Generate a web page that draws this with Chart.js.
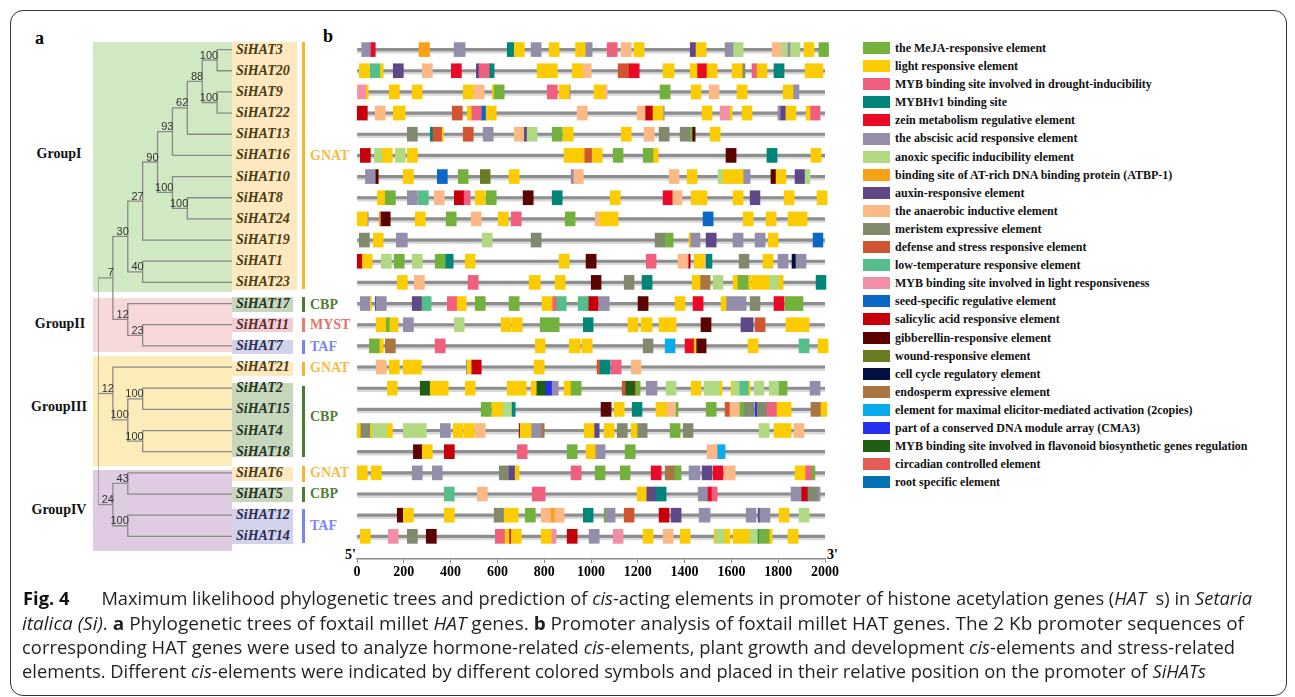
<!DOCTYPE html>
<html>
<head>
<meta charset="utf-8">
<script src="https://cdn.jsdelivr.net/npm/chart.js@4.4.1/dist/chart.umd.min.js"></script>
<style>
  body { margin: 0; width: 1295px; height: 697px; background: #fff; position: relative; overflow: hidden; font-family: "Liberation Serif", "Times New Roman", serif; }
  .abs { position: absolute; }
  .frame { left: 10px; top: 10px; width: 1275px; height: 684px; border: 1.4px solid #333; border-radius: 13px; }
  .serifb { font-family: "Liberation Serif", serif; font-weight: bold; }
  .grp { font-size: 14px; width: 80px; text-align: center; line-height: 18px; color: #111; }
  .fam { font-size: 14px; line-height: 18px; }
  .famBar { width: 2.5px; }
  .gene { font-family: "Liberation Serif", serif; font-weight: bold; font-style: italic; font-size: 14px; line-height: 18px; white-space: nowrap; }
  .leg { left: 863px; font-size: 12px; line-height: 18.1px; color: #111; white-space: nowrap; }
  .leg div { height: 18.1px; display: flex; align-items: center; }
  .leg span.sw { display: inline-block; width: 27px; height: 12px; margin-right: 5px; }
  .cap { font-family: "Open Sans", "Noto Sans", sans-serif; font-size: 17.5px; color: #231f20; line-height: 24px; white-space: nowrap; display: inline-block; transform-origin: 0 50%; }
  .cap i { font-style: italic; }
  .cap b { font-weight: bold; }
</style>
</head>
<body>
<div class="abs frame"></div>

<!-- panel a backgrounds -->
<div class="abs" style="left:93px;top:42px;width:139px;height:250px;background:#d0e8c3"></div>
<div class="abs" style="left:232px;top:42px;width:65px;height:248px;background:#fde8c0"></div>
<div class="abs" style="left:93px;top:298px;width:139px;height:54px;background:#f7d9d9"></div>
<div class="abs" style="left:93px;top:356px;width:139px;height:110px;background:#fcecb9"></div>
<div class="abs" style="left:93px;top:470px;width:139px;height:81px;background:#dfcce3"></div>
<div class="abs" style="left:232px;top:297px;width:61px;height:15px;background:#c6d7bd"></div>
<div class="abs" style="left:232px;top:318px;width:61px;height:14px;background:#f0cfd4"></div>
<div class="abs" style="left:232px;top:340px;width:61px;height:14px;background:#d2d3ea"></div>
<div class="abs" style="left:232px;top:362px;width:61px;height:14px;background:#fde8c0"></div>
<div class="abs" style="left:232px;top:383px;width:61px;height:74px;background:#c6d7bd"></div>
<div class="abs" style="left:232px;top:467px;width:61px;height:14px;background:#fde8c0"></div>
<div class="abs" style="left:232px;top:487px;width:61px;height:15px;background:#c6d7bd"></div>
<div class="abs" style="left:232px;top:509px;width:61px;height:35px;background:#d2d3ea"></div>

<!-- family bars -->
<div class="abs famBar" style="left:302px;top:42px;height:247px;background:#f5b52e"></div>
<div class="abs famBar" style="left:302px;top:297px;height:15px;background:#4c7c2e"></div>
<div class="abs famBar" style="left:302px;top:318px;height:14px;background:#ec7b78"></div>
<div class="abs famBar" style="left:302px;top:340px;height:14px;background:#7b83f0"></div>
<div class="abs famBar" style="left:302px;top:362px;height:14px;background:#f5b52e"></div>
<div class="abs famBar" style="left:302px;top:386px;height:71px;background:#4c7c2e"></div>
<div class="abs famBar" style="left:302px;top:466px;height:16px;background:#f5b52e"></div>
<div class="abs famBar" style="left:302px;top:487px;height:15px;background:#4c7c2e"></div>
<div class="abs famBar" style="left:302px;top:509px;height:34px;background:#7b83f0"></div>

<div class="abs serifb fam" style="left:310px;top:147px;color:#f6bb42">GNAT</div>
<div class="abs serifb fam" style="left:310px;top:296px;color:#4f8035">CBP</div>
<div class="abs serifb fam" style="left:310px;top:316px;color:#e8706d">MYST</div>
<div class="abs serifb fam" style="left:310px;top:338px;color:#7c86f2">TAF</div>
<div class="abs serifb fam" style="left:310px;top:359px;color:#f6bb42">GNAT</div>
<div class="abs serifb fam" style="left:310px;top:408px;color:#4f8035">CBP</div>
<div class="abs serifb fam" style="left:310px;top:464px;color:#f6bb42">GNAT</div>
<div class="abs serifb fam" style="left:310px;top:485px;color:#4f8035">CBP</div>
<div class="abs serifb fam" style="left:310px;top:517px;color:#7c86f2">TAF</div>

<div class="abs serifb grp" style="left:19px;top:145px">GroupI</div>
<div class="abs serifb grp" style="left:20px;top:315px">GroupII</div>
<div class="abs serifb grp" style="left:19px;top:398px">GroupIII</div>
<div class="abs serifb grp" style="left:19px;top:501px">GroupIV</div>

<div class="abs serifb" style="left:35px;top:28px;font-size:18px">a</div>
<div class="abs serifb" style="left:323px;top:26px;font-size:18px">b</div>
<div class="abs serifb" style="left:345px;top:547px;font-size:14px">5'</div>
<div class="abs serifb" style="left:827px;top:547px;font-size:14px">3'</div>

<canvas id="tree" class="abs" style="left:88px;top:30px"></canvas>
<canvas id="promoter" class="abs" style="left:327px;top:30px"></canvas>
<div id="genes"></div>
<div id="legend" class="abs leg serifb" style="top:39px"></div>

<div class="abs" style="left:23px;top:586px"><span class="cap" data-w="1229"><b style="display:inline-block;width:75px;color:#111">Fig. 4</b>Maximum likelihood phylogenetic trees and prediction of <i>cis</i>-acting elements in promoter of histone acetylation genes (<i>HAT</i>&nbsp;&nbsp;s) in <i>Setaria</i></span></div>
<div class="abs" style="left:22px;top:611px"><span class="cap" data-w="1222"><i>italica (Si)</i>. <b>a</b> Phylogenetic trees of foxtail millet <i>HAT</i> genes. <b>b</b> Promoter analysis of foxtail millet HAT genes. The 2 Kb promoter sequences of</span></div>
<div class="abs" style="left:22px;top:635px"><span class="cap" data-w="1213">corresponding HAT genes were used to analyze hormone-related <i>cis</i>-elements, plant growth and development <i>cis</i>-elements and stress-related</span></div>
<div class="abs" style="left:22px;top:659px"><span class="cap" data-w="1184">elements. Different <i>cis</i>-elements were indicated by different colored symbols and placed in their relative position on the promoter of <i>SiHATs</i></span></div>

<script>
// genes, top to bottom
const geneNames = ['SiHAT3', 'SiHAT20', 'SiHAT9', 'SiHAT22', 'SiHAT13', 'SiHAT16', 'SiHAT10', 'SiHAT8',
  'SiHAT24', 'SiHAT19', 'SiHAT1', 'SiHAT23', 'SiHAT17', 'SiHAT11', 'SiHAT7', 'SiHAT21',
  'SiHAT2', 'SiHAT15', 'SiHAT4', 'SiHAT18', 'SiHAT6', 'SiHAT5', 'SiHAT12', 'SiHAT14'];
const geneFamilies = ['GNAT', 'GNAT', 'GNAT', 'GNAT', 'GNAT', 'GNAT', 'GNAT', 'GNAT', 'GNAT', 'GNAT', 'GNAT', 'GNAT',
  'CBP', 'MYST', 'TAF', 'GNAT', 'CBP', 'CBP', 'CBP', 'CBP', 'GNAT', 'CBP', 'TAF', 'TAF'];

// cis-element types (legend order)
const elementCodes = ['A', 'L', 'D', 'H', 'Z', 'B', 'X', 'T', 'U', 'N', 'M', 'F', 'C', 'P', 'S', 'Q', 'G', 'W', 'Y', 'E', 'K', 'J', 'V', 'R', 'O'];
const elementNames = [
  'the MeJA-responsive element', 'light responsive element', 'MYB binding site involved in drought-inducibility',
  'MYBHv1 binding site', 'zein metabolism regulative element', 'the abscisic acid responsive element',
  'anoxic specific inducibility element', 'binding site of AT-rich DNA binding protein (ATBP-1)', 'auxin-responsive element',
  'the anaerobic inductive element', 'meristem expressive element', 'defense and stress responsive element',
  'low-temperature responsive element', 'MYB binding site involved in light responsiveness', 'seed-specific regulative element',
  'salicylic acid responsive element', 'gibberellin-responsive element', 'wound-responsive element',
  'cell cycle regulatory element', 'endosperm expressive element', 'element for maximal elicitor-mediated activation (2copies)',
  'part of a conserved DNA module array (CMA3)', 'MYB binding site involved in flavonoid biosynthetic genes regulation',
  'circadian controlled element', 'root specific element'];
const elementColors = ['#72b13c', '#fccc00', '#f05f7e', '#00857a', '#ea0a27', '#958eaa', '#b0d982', '#fba118', '#5e4888',
  '#fdb985', '#828a6e', '#d15530', '#55bf8c', '#f28ea6', '#0b68c8', '#c5000b', '#5a0300', '#6a7c22', '#001040',
  '#a97540', '#0aabec', '#2530f0', '#205f12', '#e65b55', '#0572b5'];

// promoter sites: [start, end, type] in bp from 5'
const siHAT3 = [[20,60,'B'],[60,78,'Z'],[265,310,'T'],[415,462,'B'],[642,672,'H'],[672,715,'L'],[744,787,'B'],[821,864,'L'],[934,975,'L'],[975,1005,'B'],[1069,1112,'D'],[1129,1172,'N'],[1184,1227,'L'],[1424,1449,'U'],[1449,1492,'L'],[1573,1607,'B'],[1607,1650,'X'],[1774,1816,'N'],[1816,1842,'X'],[1842,1850,'B'],[1850,1893,'X'],[1910,1953,'L'],[1974,2015,'A']];
const siHAT20 = [[10,53,'L'],[57,100,'C'],[100,112,'L'],[155,198,'U'],[279,322,'N'],[403,446,'Z'],[510,522,'U'],[522,565,'D'],[565,586,'H'],[770,856,'L'],[920,962,'L'],[962,1001,'N'],[1116,1163,'F'],[1163,1206,'Z'],[1308,1355,'L'],[1424,1453,'L'],[1453,1496,'Z'],[1496,1539,'L'],[1603,1646,'L'],[1646,1658,'M'],[1688,1710,'D'],[1710,1752,'L'],[1782,1825,'H'],[1915,1991,'L']];
const siHAT9 = [[0,40,'P'],[40,48,'L'],[138,181,'L'],[236,279,'L'],[454,497,'L'],[501,544,'N'],[578,586,'L'],[586,629,'A'],[813,856,'D'],[864,907,'L'],[907,911,'B'],[1013,1056,'L'],[1056,1069,'N'],[1295,1338,'A'],[1428,1470,'L'],[1505,1547,'N'],[1624,1667,'L'],[1821,1863,'L'],[1863,1889,'B']];
const siHAT22 = [[1,44,'Q'],[78,121,'N'],[155,206,'L'],[407,450,'F'],[471,488,'L'],[488,531,'D'],[531,552,'S'],[552,595,'L'],[941,984,'N'],[1197,1231,'N'],[1231,1265,'Q'],[1265,1308,'L'],[1308,1313,'B'],[1475,1517,'L'],[1552,1594,'P'],[1594,1603,'L'],[1646,1688,'L'],[1799,1808,'B'],[1808,1833,'U'],[1833,1876,'L'],[1919,1936,'L'],[1936,1979,'D']];
const siHAT13 = [[215,258,'M'],[313,322,'H'],[322,364,'F'],[364,369,'L'],[454,497,'F'],[539,582,'B'],[672,715,'N'],[715,727,'U'],[727,770,'X'],[834,877,'A'],[881,924,'L'],[1129,1172,'L'],[1227,1270,'N'],[1291,1334,'M'],[1381,1424,'M'],[1424,1432,'A'],[1432,1445,'G'],[1509,1552,'L']];
const siHAT16 = [[14,57,'Q'],[74,108,'X'],[108,151,'L'],[164,206,'X'],[215,258,'L'],[885,971,'L'],[971,1005,'F'],[1005,1048,'L'],[1095,1137,'A'],[1223,1265,'A'],[1265,1287,'L'],[1577,1620,'G'],[1752,1795,'H'],[1940,1983,'L']];
const siHAT10 = [[36,78,'B'],[78,91,'G'],[198,241,'L'],[343,386,'S'],[433,475,'A'],[527,569,'W'],[650,693,'L'],[915,924,'B'],[924,967,'N'],[1334,1376,'N'],[1411,1453,'L'],[1543,1564,'X'],[1564,1650,'L'],[1650,1680,'B'],[1769,1791,'G'],[1791,1833,'L'],[1872,1915,'U'],[1915,1936,'X']];
const siHAT8 = [[87,121,'L'],[121,164,'A'],[215,258,'B'],[262,305,'C'],[330,373,'N'],[416,458,'Q'],[458,484,'D'],[505,548,'L'],[552,595,'A'],[710,753,'G'],[834,877,'H'],[1082,1125,'L'],[1308,1347,'Z'],[1347,1389,'N'],[1428,1496,'L'],[1607,1650,'L'],[1680,1722,'U'],[1825,1868,'L'],[1966,2009,'L']];
const siHAT24 = [[1,44,'L'],[44,48,'B'],[95,100,'T'],[100,142,'G'],[249,292,'L'],[381,424,'A'],[488,531,'N'],[604,646,'L'],[659,702,'D'],[890,932,'A'],[1018,1039,'N'],[1039,1116,'L'],[1479,1522,'S'],[1650,1693,'L'],[1748,1791,'L'],[1842,1923,'L']];
const siHAT19 = [[10,53,'M'],[70,112,'L'],[168,215,'B'],[535,578,'X'],[744,787,'M'],[1274,1317,'M'],[1317,1351,'A'],[1419,1424,'L'],[1424,1466,'B'],[1492,1535,'U'],[1607,1650,'B'],[1701,1744,'B'],[1757,1799,'L'],[1949,1991,'S']];
const siHAT1 = [[1,23,'Q'],[23,65,'L'],[104,147,'X'],[159,202,'A'],[236,279,'X'],[334,377,'A'],[377,411,'H'],[463,505,'L'],[864,907,'L'],[979,1022,'G'],[1236,1278,'D'],[1372,1415,'N'],[1415,1424,'Q'],[1441,1483,'L'],[1483,1492,'N'],[1492,1517,'H'],[1633,1675,'M'],[1735,1778,'L'],[1799,1842,'B'],[1859,1876,'Y'],[1876,1919,'B']];
const siHAT23 = [[172,215,'L'],[245,288,'N'],[475,518,'D'],[736,783,'L'],[847,890,'L'],[1001,1043,'G'],[1142,1184,'M'],[1218,1261,'H'],[1432,1466,'L'],[1466,1509,'E'],[1522,1564,'X'],[1607,1628,'L'],[1628,1671,'A'],[1671,1684,'L'],[1688,1761,'L'],[1761,1804,'X'],[1804,1821,'L'],[1962,2004,'H']];
const siHAT17 = [[14,57,'B'],[57,61,'L'],[78,82,'U'],[82,125,'B'],[236,275,'U'],[275,317,'C'],[386,428,'D'],[428,467,'L'],[505,548,'A'],[650,693,'A'],[791,834,'L'],[834,851,'D'],[851,894,'C'],[945,988,'C'],[988,1031,'Q'],[1035,1078,'B'],[1201,1244,'G'],[1359,1402,'L'],[1436,1479,'Z'],[1556,1577,'L'],[1577,1663,'B'],[1680,1722,'M'],[1782,1825,'Z'],[1829,1906,'A']];
const siHAT11 = [[82,125,'L'],[125,138,'A'],[138,176,'L'],[198,241,'B'],[416,458,'X'],[616,659,'L'],[663,706,'L'],[783,864,'A'],[967,1009,'H'],[1159,1201,'L'],[1214,1261,'L'],[1291,1364,'L'],[1470,1513,'G'],[1641,1693,'U'],[1701,1744,'F'],[1833,1932,'L']];
const siHAT7 = [[53,95,'A'],[95,112,'L'],[121,164,'E'],[334,377,'D'],[762,804,'L'],[907,954,'L'],[962,1005,'L'],[1223,1265,'M'],[1317,1359,'K'],[1402,1441,'Z'],[1441,1449,'L'],[1449,1492,'G'],[1671,1714,'L'],[1889,1932,'C'],[1970,2013,'L']];
const siHAT21 = [[82,125,'N'],[138,181,'L'],[198,275,'L'],[467,471,'B'],[471,488,'L'],[488,531,'Q'],[757,800,'L'],[1026,1039,'F'],[1039,1082,'H'],[1086,1129,'D'],[1172,1214,'N']];
const siHAT2 = [[130,172,'L'],[270,313,'V'],[313,390,'L'],[463,505,'L'],[642,723,'L'],[744,766,'L'],[766,808,'V'],[808,834,'J'],[834,860,'B'],[885,915,'L'],[915,958,'A'],[1133,1146,'F'],[1146,1189,'V'],[1189,1193,'F'],[1193,1210,'A'],[1236,1282,'B'],[1321,1364,'X'],[1428,1470,'L'],[1483,1552,'X'],[1552,1560,'L'],[1599,1603,'L'],[1603,1633,'X'],[1633,1675,'C'],[1675,1680,'L'],[1697,1739,'X'],[1761,1804,'X'],[1804,1838,'A'],[1936,1979,'B']];
const siHAT15 = [[531,574,'A'],[578,620,'L'],[620,663,'X'],[663,676,'H'],[1043,1086,'G'],[1099,1142,'L'],[1176,1218,'H'],[1278,1321,'L'],[1321,1364,'N'],[1364,1372,'A'],[1492,1535,'A'],[1573,1594,'F'],[1594,1637,'N'],[1637,1654,'A'],[1654,1697,'M'],[1701,1710,'J'],[1710,1752,'M'],[1752,1795,'D'],[1795,1855,'L'],[1940,1983,'E'],[1983,2008,'L']];
const siHAT4 = [[1,14,'L'],[14,57,'M'],[57,61,'L'],[61,130,'X'],[130,151,'L'],[198,296,'X'],[356,399,'B'],[411,454,'L'],[458,501,'L'],[505,548,'N'],[693,697,'G'],[697,744,'L'],[744,787,'B'],[787,800,'E'],[971,1013,'L'],[1013,1035,'U'],[1056,1099,'L'],[1112,1155,'M'],[1172,1197,'L'],[1197,1240,'M'],[1338,1381,'A'],[1394,1436,'M'],[1718,1761,'X'],[1782,1855,'L'],[1868,1910,'N']];
const siHAT18 = [[241,279,'G'],[279,322,'L'],[373,416,'Q'],[685,727,'D'],[898,941,'A'],[979,1018,'L'],[1018,1060,'B'],[1146,1189,'A'],[1496,1539,'N'],[1539,1573,'K']];
const siHAT6 = [[1,44,'L'],[61,104,'L'],[236,279,'B'],[322,364,'B'],[608,650,'M'],[650,676,'U'],[676,693,'L'],[915,958,'D'],[1018,1060,'A'],[1125,1167,'A'],[1257,1300,'Z'],[1317,1359,'E'],[1359,1385,'A'],[1419,1466,'B'],[1475,1517,'U'],[1522,1564,'Z'],[1569,1616,'N'],[1872,1915,'L'],[1915,1944,'D'],[1944,1957,'A']];
const siHAT5 = [[373,416,'C'],[514,557,'N'],[749,804,'D'],[1197,1236,'L'],[1236,1278,'U'],[1278,1321,'H'],[1458,1500,'B'],[1500,1517,'Z'],[1517,1539,'D'],[1855,1898,'B'],[1898,1927,'Q'],[1927,1970,'M'],[1970,1979,'B']];
const siHAT12 = [[172,198,'G'],[198,241,'L'],[373,416,'L'],[586,629,'M'],[629,689,'L'],[719,762,'A'],[787,830,'N'],[830,843,'T'],[843,885,'N'],[967,1009,'H'],[1056,1060,'A'],[1060,1103,'B'],[1142,1184,'F'],[1291,1334,'Q'],[1342,1385,'U'],[1462,1509,'B'],[1663,1705,'B'],[1714,1722,'U'],[1722,1765,'B'],[1804,1846,'L'],[1889,1932,'X']];
const siHAT14 = [[14,57,'L'],[134,176,'P'],[215,258,'M'],[296,339,'G'],[591,633,'D'],[633,650,'L'],[650,659,'Q'],[659,702,'L'],[787,830,'L'],[830,851,'P'],[898,941,'Q'],[992,1035,'B'],[1095,1137,'P'],[1223,1265,'L'],[1308,1351,'N'],[1381,1424,'L'],[1526,1530,'L'],[1530,1573,'X'],[1573,1594,'L'],[1607,1675,'L'],[1675,1714,'X'],[1714,1718,'H'],[1718,1761,'A'],[1761,1774,'L'],[1842,1885,'L']];

const promoterRows = [siHAT3, siHAT20, siHAT9, siHAT22, siHAT13, siHAT16, siHAT10, siHAT8, siHAT24, siHAT19, siHAT1, siHAT23,
  siHAT17, siHAT11, siHAT7, siHAT21, siHAT2, siHAT15, siHAT4, siHAT18, siHAT6, siHAT5, siHAT12, siHAT14];
const promoterLength = 2000;
const axisTicks = [0, 200, 400, 600, 800, 1000, 1200, 1400, 1600, 1800, 2000];

// tree: [node, depth, bootstrap, children]  (depth 0 = root, leaves at 9)
const treeNodes = [
  ['root', 0, '', ['n7', 'n12b', 'n24']],
  ['n7', 1, '7', ['n30', 'n12a']],
  ['n30', 2, '30', ['n27', 'n40']],
  ['n27', 3, '27', ['n90', 'SiHAT19']],
  ['n90', 4, '90', ['n93', 'n100c']],
  ['n93', 5, '93', ['n62', 'SiHAT16']],
  ['n62', 6, '62', ['n88', 'SiHAT13']],
  ['n88', 7, '88', ['n100a', 'n100b']],
  ['n100a', 8, '100', ['SiHAT3', 'SiHAT20']],
  ['n100b', 8, '100', ['SiHAT9', 'SiHAT22']],
  ['n100c', 5, '100', ['SiHAT10', 'n100d']],
  ['n100d', 6, '100', ['SiHAT8', 'SiHAT24']],
  ['n40', 3, '40', ['SiHAT1', 'SiHAT23']],
  ['n12a', 2, '12', ['SiHAT17', 'n23']],
  ['n23', 3, '23', ['SiHAT11', 'SiHAT7']],
  ['n12b', 1, '12', ['SiHAT21', 'n100e']],
  ['n100e', 2, '100', ['n100f', 'n100g']],
  ['n100f', 3, '100', ['SiHAT2', 'SiHAT15']],
  ['n100g', 3, '100', ['SiHAT4', 'SiHAT18']],
  ['n24', 1, '24', ['n43', 'n100h']],
  ['n43', 2, '43', ['SiHAT6', 'SiHAT5']],
  ['n100h', 2, '100', ['SiHAT12', 'SiHAT14']]
];
const leafDepth = 9;

const geneColors = { GNAT: '#4a3a12', CBP: '#24341f', MYST: '#5c2a2e', TAF: '#2b2e52' };

// shared row scale: rows 0..23, axis sits a little below the last row
const rowScale = () => ({ type: 'linear', reverse: true, min: -0.5, max: 24.07, offset: false, display: false });

// ---------- tree layout ----------
const nodeById = {};
treeNodes.forEach(n => { nodeById[n[0]] = { id: n[0], depth: n[1], label: n[2], children: n[3] }; });
function pos(id) {
  const leaf = geneNames.indexOf(id);
  if (leaf >= 0) return { x: leafDepth, y: leaf };
  const n = nodeById[id];
  if (n.y === undefined) {
    const first = pos(n.children[0]);
    const last = pos(n.children[n.children.length - 1]);
    n.y = (first.y + last.y) / 2;
  }
  return { x: n.depth, y: n.y };
}

const treeLine = { borderColor: '#8a8a8a', borderWidth: 1.3, pointRadius: 0, showLine: true, fill: false, tension: 0 };
const treeDatasets = [];
treeNodes.forEach(t => {
  const n = nodeById[t[0]];
  const me = pos(n.id);
  const kids = n.children.map(pos);
  const a = kids[0], b = kids[kids.length - 1];
  treeDatasets.push({ ...treeLine, data: [a, { x: me.x, y: a.y }, { x: me.x, y: b.y }, b] });
  kids.slice(1, -1).forEach(k => treeDatasets.push({ ...treeLine, data: [{ x: me.x, y: k.y }, k] }));
});

const bootstrapLabels = {
  id: 'bootstrapLabels',
  afterDatasetsDraw(chart) {
    const { ctx, scales: { x, y } } = chart;
    ctx.save();
    ctx.font = '11px "Liberation Sans", Arial, sans-serif';
    ctx.fillStyle = '#333';
    ctx.textAlign = 'right';
    ctx.textBaseline = 'bottom';
    treeNodes.forEach(t => {
      const n = nodeById[t[0]];
      if (n.label) ctx.fillText(n.label, x.getPixelForValue(n.depth) + 1, y.getPixelForValue(n.y) + 1);
    });
    ctx.restore();
  }
};

const treeCanvas = document.getElementById('tree');
treeCanvas.width = 148; treeCanvas.height = 559;
const treeChart = new Chart(treeCanvas, {
  type: 'scatter',
  data: { datasets: treeDatasets },
  options: {
    responsive: false, animation: false, events: [],
    layout: { padding: { left: 10, right: 4, top: 9, bottom: 30 } },
    plugins: { legend: { display: false }, tooltip: { enabled: false } },
    scales: { x: { type: 'linear', min: 0, max: leafDepth, display: false }, y: rowScale() }
  },
  plugins: [bootstrapLabels]
});

// ---------- promoter chart ----------
const siteDatasets = elementCodes.map((code, k) => ({
  label: elementNames[k],
  data: promoterRows.flatMap((sites, i) => sites.filter(s => s[2] === code).map(s => ({ x: [s[0], s[1]], y: i }))),
  backgroundColor: elementColors[k],
  barThickness: 14, grouped: false, borderWidth: 0, clip: false
}));
// backbone lines drawn underneath (last dataset is painted first)
siteDatasets.push({
  label: 'promoter',
  data: promoterRows.map((_, i) => ({ x: [0, promoterLength], y: i })),
  backgroundColor: '#8e8e8e', barThickness: 2.5, grouped: false, borderWidth: 0
});
siteDatasets.push({
  label: 'shadow',
  data: promoterRows.map((_, i) => ({ x: [0, promoterLength], y: i + 0.06 })),
  backgroundColor: '#d9d9d9', barThickness: 4.5, grouped: false, borderWidth: 0
});

const promoterCanvas = document.getElementById('promoter');
promoterCanvas.width = 528; promoterCanvas.height = 559;
const promoterChart = new Chart(promoterCanvas, {
  type: 'bar',
  data: { datasets: siteDatasets },
  options: {
    indexAxis: 'y', responsive: false, animation: false, events: [],
    layout: { padding: { left: 30, right: 30, top: 9, bottom: 0 } },
    plugins: { legend: { display: false }, tooltip: { enabled: false } },
    scales: {
      x: {
        type: 'linear', min: 0, max: promoterLength,
        afterFit: s => { s.height = 30; },
        afterBuildTicks: s => { s.ticks = axisTicks.map(v => ({ value: v })); },
        border: { color: '#8a8a8a', width: 1.5 },
        grid: { drawOnChartArea: false, drawTicks: true, tickLength: 4, color: '#8a8a8a' },
        ticks: { color: '#000', padding: 1, maxRotation: 0, callback: v => String(v), font: { family: 'Liberation Serif', weight: 'bold', size: 14 } }
      },
      y: rowScale()
    }
  }
});

// gene labels aligned with the row scale
const genesDiv = document.getElementById('genes');
geneNames.forEach((g, i) => {
  const d = document.createElement('div');
  d.className = 'abs gene';
  d.textContent = g;
  d.style.left = '236px';
  d.style.top = (30 + treeChart.scales.y.getPixelForValue(i) - 9) + 'px';
  d.style.color = geneColors[geneFamilies[i]];
  genesDiv.appendChild(d);
});

// legend
const legendDiv = document.getElementById('legend');
elementNames.forEach((name, k) => {
  const row = document.createElement('div');
  row.innerHTML = '<span class="sw" style="background:' + elementColors[k] + '"></span>' + name;
  legendDiv.appendChild(row);
});

// fit caption lines to their measured widths
document.querySelectorAll('.cap').forEach(el => {
  const w = el.getBoundingClientRect().width;
  el.style.transform = 'scaleX(' + (el.dataset.w / w) + ')';
});
</script>
</body>
</html>
